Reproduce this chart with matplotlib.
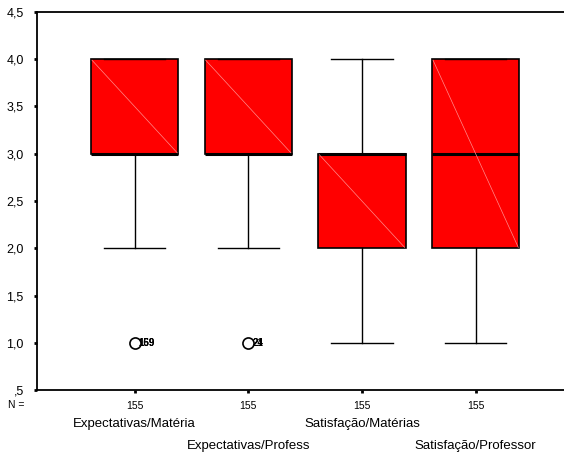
import matplotlib.pyplot as plt

plt.rcParams['font.family'] = ['Liberation Sans', 'DejaVu Sans']

categorias = ["Expectativas/Matéria", "Expectativas/Profess",
              "Satisfação/Matérias", "Satisfação/Professor"]
n_casos = [155, 155, 155, 155]
q1 = [3.0, 3.0, 2.0, 2.0]
mediana = [3.0, 3.0, 3.0, 3.0]
q3 = [4.0, 4.0, 3.0, 4.0]
bigode_min = [2.0, 2.0, 1.0, 1.0]
bigode_max = [4.0, 4.0, 4.0, 4.0]
outliers = [[1.0], [1.0], [], []]
rotulos_outliers = [["169", "159"], ["24", "21"], [], []]
yticks = [0.5, 1.0, 1.5, 2.0, 2.5, 3.0, 3.5, 4.0, 4.5]
ytick_labels = [",5", "1,0", "1,5", "2,0", "2,5", "3,0", "3,5", "4,0", "4,5"]

stats = []
for i in range(len(categorias)):
    stats.append({"q1": q1[i], "med": mediana[i], "q3": q3[i],
                  "whislo": bigode_min[i], "whishi": bigode_max[i],
                  "fliers": outliers[i]})

fig = plt.figure(figsize=(5.64, 4.59), dpi=100)
ax = fig.add_axes([0.0656, 0.150, 0.94, 0.824])

pos = [1, 2, 3, 4]
ax.bxp(stats, positions=pos, widths=0.77, patch_artist=True, showcaps=True,
       boxprops=dict(facecolor="#ff0000", edgecolor="black", linewidth=1.2),
       medianprops=dict(color="black", linewidth=2.2),
       whiskerprops=dict(color="black", linewidth=1),
       capprops=dict(color="black", linewidth=1),
       flierprops=dict(marker="o", markerfacecolor="white", markeredgecolor="black",
                       markersize=8, markeredgewidth=1.2),
       capwidths=0.54)

# diagonal clara dentro das caixas
for i, p in enumerate(pos):
    ax.plot([p - 0.385 + 0.01, p + 0.385 - 0.01], [q3[i] - 0.01, q1[i] + 0.01],
            color="#ff8c8c", linewidth=0.5, zorder=3)
    for r in rotulos_outliers[i]:
        for y in outliers[i]:
            ax.text(p + 0.035, y, r, fontsize=7, fontweight="bold",
                    va="center", ha="left")

ax.set_xlim(0.1416, 4.805)
ax.set_ylim(0.5, 4.5)
ax.set_yticks(yticks)
ax.set_yticklabels(ytick_labels, fontsize=9)
ax.set_xticks(pos)
ax.set_xticklabels([str(n) for n in n_casos], fontsize=7.5)
ax.tick_params(axis="both", direction="out", length=2.5, width=2)
ax.tick_params(axis="x", pad=5)
ax.tick_params(axis="y", pad=7)
ax.spines["right"].set_visible(False)
for s in ["left", "bottom", "top"]:
    ax.spines[s].set_linewidth(1.3)

fig.text(8 / 564, 1 - 405 / 459, "N =", fontsize=7.5, va="center", ha="left")
for i, c in enumerate(categorias):
    ypix = 424 if i % 2 == 0 else 446
    ax.text(pos[i], 0, c, transform=ax.get_xaxis_transform(), fontsize=9.5,
            ha="center", va="center")
    ax.texts[-1].set_y(-(ypix - 390) / (390 - 12))

fig.savefig("out.png", dpi=100)
